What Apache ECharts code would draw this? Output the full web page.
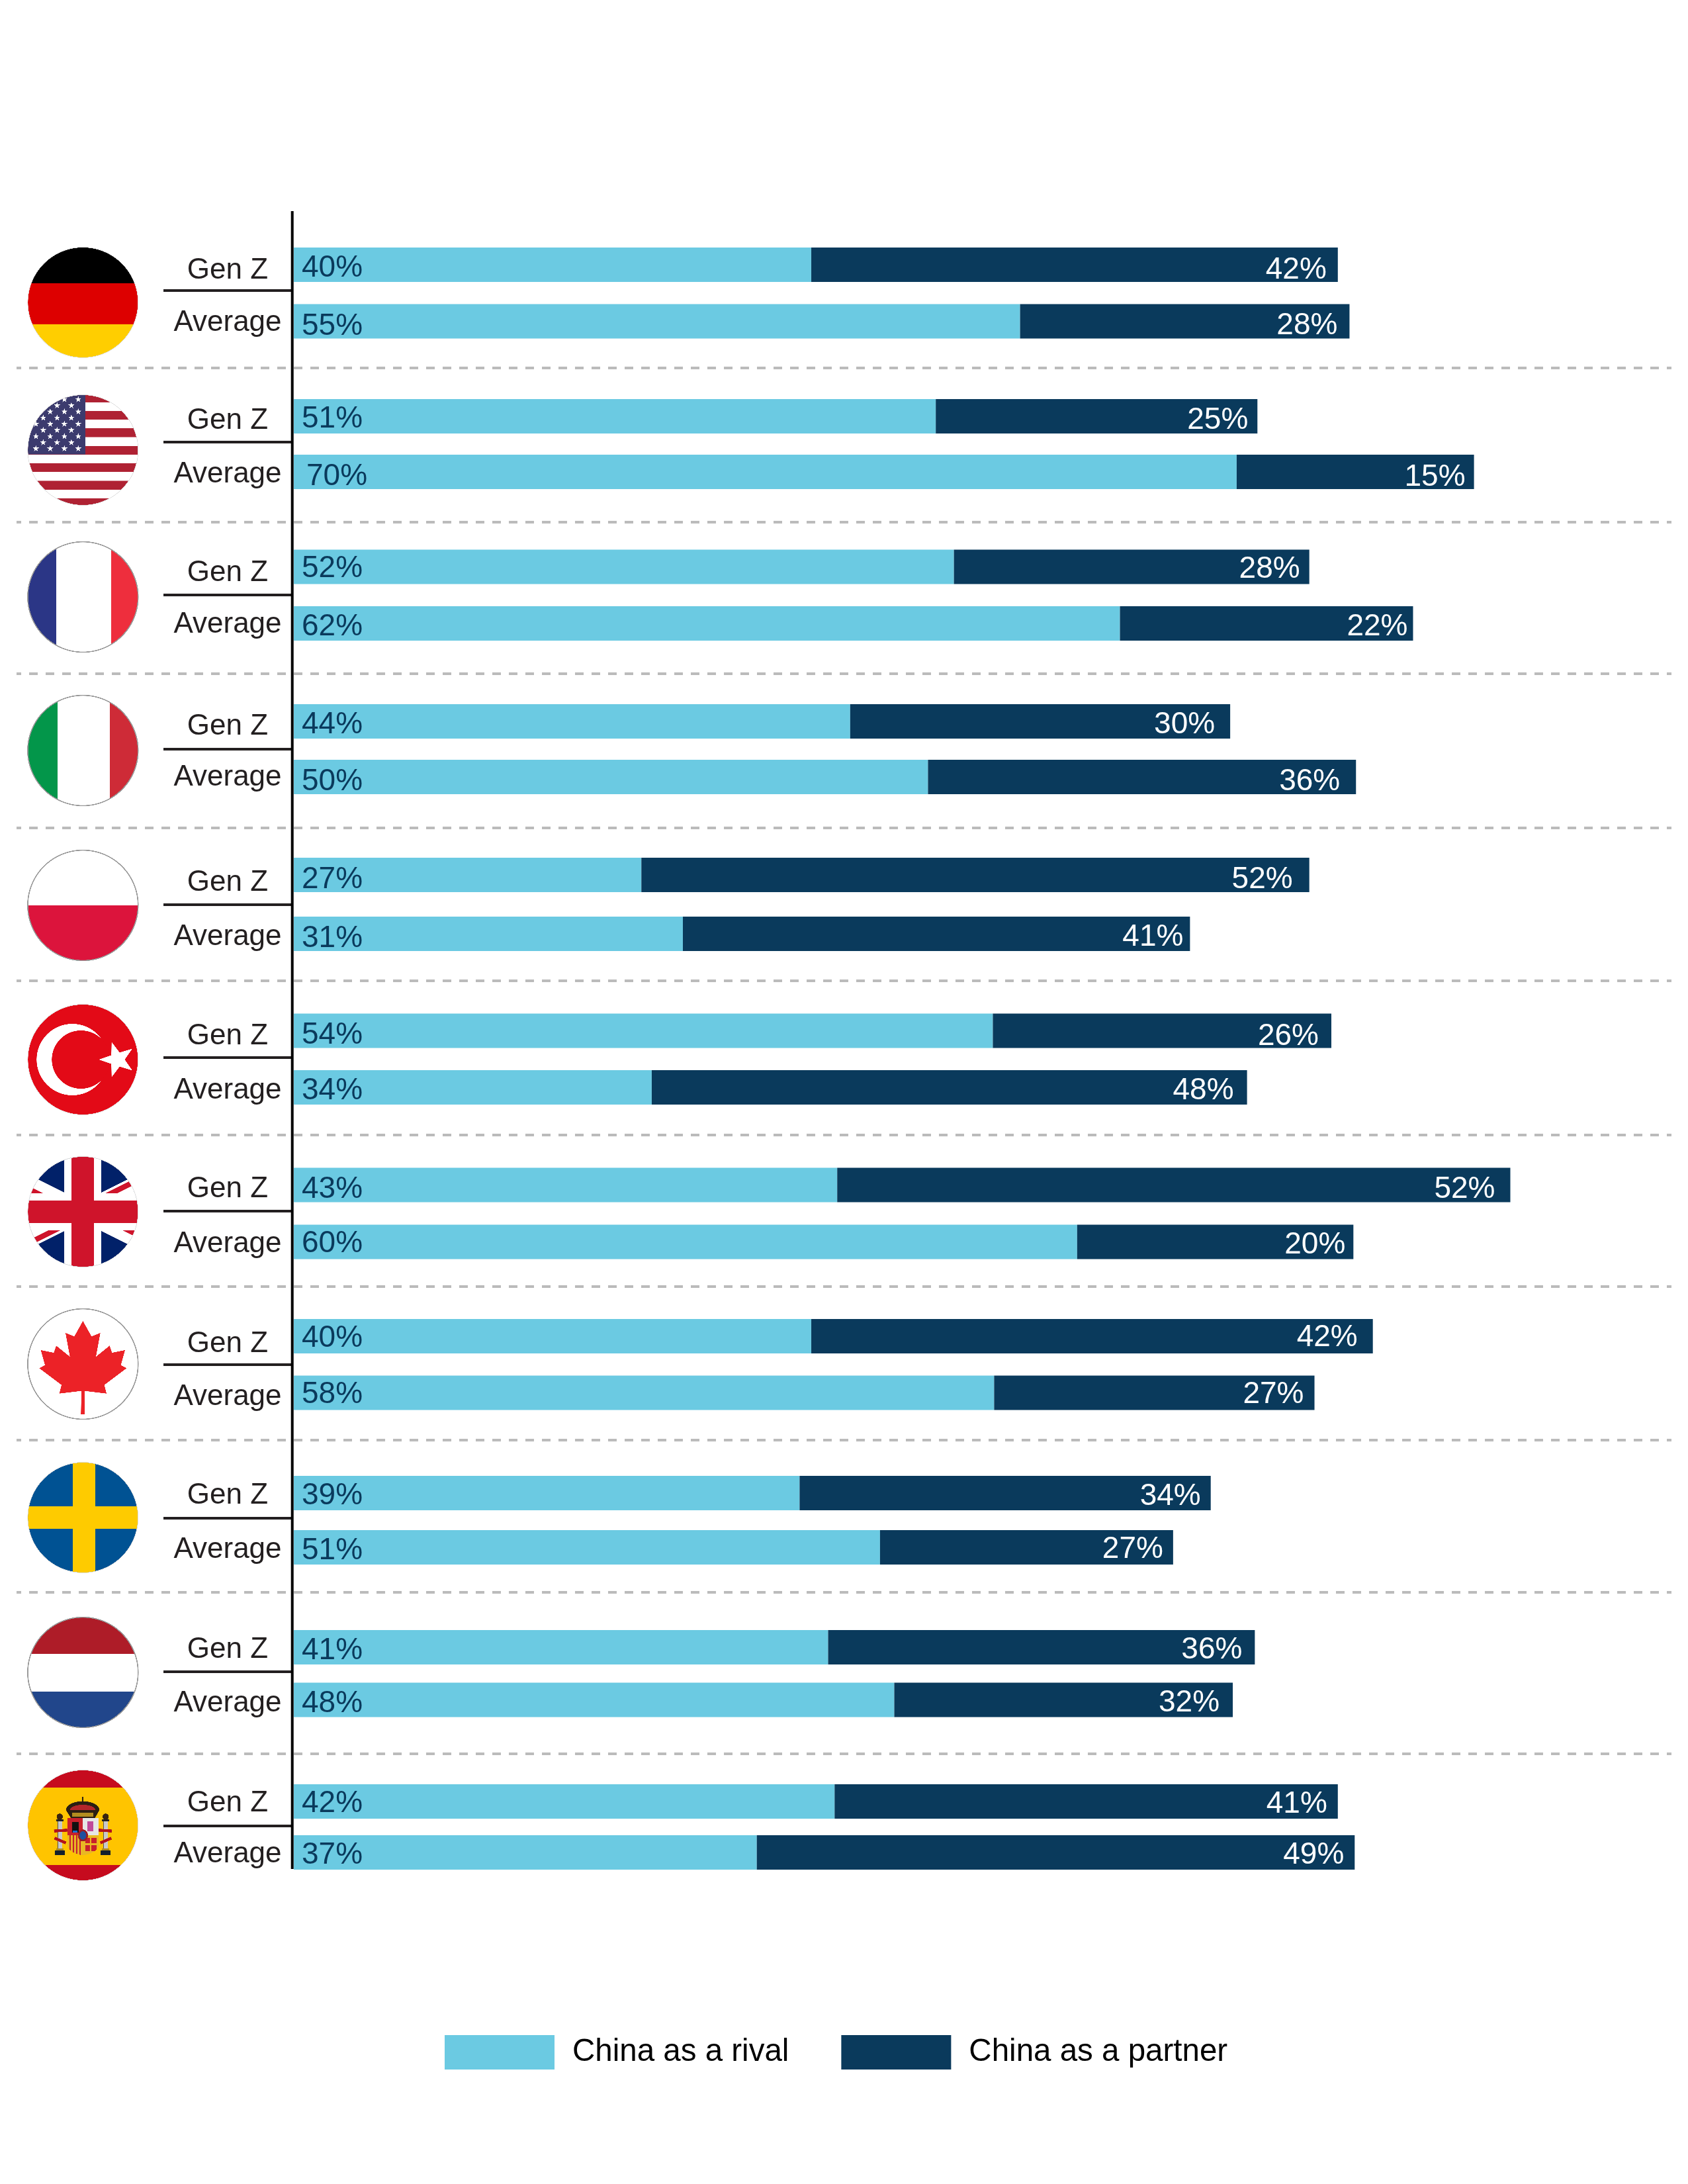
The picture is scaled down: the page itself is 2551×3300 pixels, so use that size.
<!DOCTYPE html>
<html>
<head>
<meta charset="utf-8">
<title>China as a rival or a partner</title>
<script src="https://cdn.jsdelivr.net/npm/echarts@6/dist/echarts.min.js"></script>
<style>
  html, body { margin: 0; background: #fff; }
  #chart { width: 2551px; height: 3300px; }
</style>
</head>
<body>
<div id="chart"></div>
<script>
const FONT = '"Liberation Sans", Arial, sans-serif';
const LIGHT = "#6bcae2";
const DARK = "#0a3a5c";

const countries = ["Germany", "USA", "France", "Italy", "Poland", "Turkey", "UK", "Canada", "Sweden", "Netherlands", "Spain"];
const rows = ["Gen Z", "Average"];

// figures printed on the bars
const printedRivalGenZ = [40, 51, 52, 44, 27, 54, 43, 40, 39, 41, 42];
const printedPartnerGenZ = [42, 25, 28, 30, 52, 26, 52, 42, 34, 36, 41];
const printedRivalAverage = [55, 70, 62, 50, 31, 34, 60, 58, 51, 48, 37];
const printedPartnerAverage = [28, 15, 22, 36, 41, 48, 20, 27, 27, 32, 49];

// the source bars don't follow the printed figures exactly, these are the drawn lengths
const rivalGenZ = [39.9, 49.5, 50.9, 42.9, 26.8, 53.9, 41.9, 39.9, 39.0, 41.2, 41.7];
const partnerGenZ = [40.6, 24.8, 27.4, 29.3, 51.5, 26.1, 51.9, 43.3, 31.7, 32.9, 38.8];
const rivalAverage = [56.0, 72.7, 63.7, 48.9, 30.0, 27.6, 60.4, 54.0, 45.2, 46.3, 35.7];
const partnerAverage = [25.4, 18.3, 22.6, 33.0, 39.1, 45.9, 21.3, 24.7, 22.6, 26.1, 46.1];

// layout, in page pixels
const centreGenZ = [400, 629, 856.5, 1090, 1322, 1557.5, 1790.5, 2019, 2256, 2489, 2722];
const centreAverage = [485.5, 713, 942, 1174, 1411, 1643, 1876.5, 2104.5, 2338, 2568.5, 2799];
const ruleY = [439, 668, 899, 1132, 1367, 1598, 1830, 2062, 2294, 2526, 2759];
const flagY = [457, 680, 902, 1134, 1368, 1601, 1831, 2061, 2293, 2527, 2758];
const separatorY = [556, 789, 1018, 1251, 1482, 1715, 1944, 2176, 2406, 2650];

// glyphs sit a little above the centre of their box
const GLYPH_DY = 3;
const rowLabelDyGenZ = [9, 7, 9, 8, 12, 8, 6, 12, 4, 4, 3];
const rowLabelDyAverage = [2, 4, 2, 1, 5, 5, 3, 6, 4, 5, 3];
const rivalDyGenZ = [2, 1, 0, 2, 4, 4, 4, 0, 1, 2, 0];
const rivalDyAverage = [4.5, 4, 2.5, 4, 4, 2, 0, 0, 2, 3, 1];
const partnerDyGenZ = [5, 3, 0.5, 2, 4, 5.5, 3.5, -1, 2, 1, 1];
const partnerDyAverage = [4, 5, 2, 4, 2, 2, 1.5, 0, 0, 2, 1];
const partnerInsetGenZ = [17, 14, 14, 23, 25, 19, 23, 23, 15, 19, 16];
const partnerInsetAverage = [18, 13, 8, 24, 10, 20, 12, 16, 15, 20, 16];

const FLAG_R = 83;

function fiveStar(ctx, x, y, r, rot) {
  ctx.beginPath();
  for (let i = 0; i < 10; i++) {
    const rad = i % 2 ? r * 0.4 : r;
    const a = rot + (i * Math.PI) / 5;
    ctx.lineTo(x + rad * Math.cos(a), y + rad * Math.sin(a));
  }
  ctx.closePath();
  ctx.fill();
}

function bands(ctx, list) {
  list.forEach(([color, x, y, w, h]) => {
    ctx.fillStyle = color;
    ctx.fillRect(x, y, w, h);
  });
}

const R = 90;

const flagPainters = {
  Germany(ctx) {
    bands(ctx, [["#000", -R, -R, 2 * R, 61], ["#dd0000", -R, -29, 2 * R, 62], ["#ffce00", -R, 33, 2 * R, 60]]);
  },
  USA(ctx) {
    bands(ctx, [["#fff", -R, -R, 2 * R, 2 * R]]);
    ctx.fillStyle = "#af2233";
    ctx.fillRect(-R, -R, 2 * R, 17.7);
    for (let i = 1; i < 7; i++) ctx.fillRect(-R, -72.3 + (2 * i - 1) * 13.2, 2 * R, 13.2);
    bands(ctx, [["#3c3b6e", -R, -R, R + 4, R + 6.5]]);
    ctx.fillStyle = "#fff";
    const colsA = [-7, -28, -49.5, -71];
    const colsB = [-17.5, -39, -60];
    for (let r = 0; r < 9; r++) {
      (r % 2 ? colsB : colsA).forEach((x) => fiveStar(ctx, x, -76.5 + r * 9.3, 5, -Math.PI / 2));
    }
  },
  France(ctx) {
    bands(ctx, [["#fff", -R, -R, 2 * R, 2 * R], ["#2b3686", -R, -R, R - 40, 2 * R], ["#ee2e3d", 43, -R, R, 2 * R]]);
  },
  Italy(ctx) {
    bands(ctx, [["#fff", -R, -R, 2 * R, 2 * R], ["#03964a", -R, -R, R - 38, 2 * R], ["#ce2b37", 41, -R, R, 2 * R]]);
  },
  Poland(ctx) {
    bands(ctx, [["#fff", -R, -R, 2 * R, R], ["#dc143c", -R, 0, 2 * R, R]]);
  },
  Turkey(ctx) {
    bands(ctx, [["#e30a17", -R, -R, 2 * R, 2 * R]]);
    ctx.fillStyle = "#fff";
    ctx.beginPath();
    ctx.arc(-16, 0, 54, 0, 2 * Math.PI);
    ctx.fill();
    ctx.fillStyle = "#e30a17";
    ctx.beginPath();
    ctx.arc(-3, 0, 44, 0, 2 * Math.PI);
    ctx.fill();
    ctx.fillStyle = "#fff";
    fiveStar(ctx, 52, 0, 28, Math.PI);
  },
  UK(ctx) {
    bands(ctx, [["#012169", -R, -R, 2 * R, 2 * R]]);
    ctx.strokeStyle = "#fff";
    ctx.lineWidth = 27;
    ctx.beginPath();
    ctx.moveTo(-R, -R / 2); ctx.lineTo(R, R / 2);
    ctx.moveTo(-R, R / 2); ctx.lineTo(R, -R / 2);
    ctx.stroke();
    ctx.fillStyle = "#cf142b";
    // red diagonals are counterchanged, one polygon per quadrant
    [[-1, 0.5, 2, 11], [1, -0.5, -11, -2], [-1, -0.5, 2, 11], [1, 0.5, -11, -2]].forEach(([dir, slope, a, b]) => {
      const x1 = dir * R;
      ctx.beginPath();
      ctx.moveTo(0, a);
      ctx.lineTo(x1, x1 * slope + a);
      ctx.lineTo(x1, x1 * slope + b);
      ctx.lineTo(0, b);
      ctx.closePath();
      ctx.fill();
    });
    bands(ctx, [["#fff", -28, -R, 56, 2 * R], ["#fff", -R, -28, 2 * R, 56], ["#cf142b", -17, -R, 34, 2 * R], ["#cf142b", -R, -17, 2 * R, 34]]);
  },
  Canada(ctx) {
    bands(ctx, [["#fff", -R, -R, 2 * R, 2 * R]]);
    const half = [[0, -195], [39, -125], [79, -141], [59, -33], [121, -83], [132, -51], [191, -63], [172, 5], [198, 19], [97, 95], [107, 134], [7, 122], [9, 227]];
    const pts = half.concat(half.slice(1).reverse().map(([x, y]) => [-x, y]));
    ctx.fillStyle = "#ec2227";
    ctx.beginPath();
    pts.forEach(([x, y]) => ctx.lineTo(x / 3, y / 3));
    ctx.closePath();
    ctx.fill();
  },
  Sweden(ctx) {
    bands(ctx, [["#005293", -R, -R, 2 * R, 2 * R], ["#fecb00", -15.3, -R, 34, 2 * R], ["#fecb00", -R, -17, 2 * R, 34]]);
  },
  Netherlands(ctx) {
    bands(ctx, [["#fff", -R, -R, 2 * R, 2 * R], ["#ae1c28", -R, -R, 2 * R, R - 28.3], ["#21468b", -R, 28.7, 2 * R, R]]);
  },
  Spain(ctx) {
    bands(ctx, [["#c60b1e", -R, -R, 2 * R, 2 * R], ["#ffc400", -R, -57, 2 * R, 117]]);
    // small coat of arms, scale 1:3
    ctx.save();
    ctx.scale(1 / 3, 1 / 3);
    ctx.translate(-195, -204);
    const rect = (c, x, y, w, h) => { ctx.fillStyle = c; ctx.fillRect(x, y, w, h); };
    // pillars
    [75, 283].forEach((x) => {
      rect("#c9c9c9", x + 4, 186, 22, 132);
      rect("#555", x + 4, 186, 4, 132);
      rect("#222", x - 2, 176, 34, 10);
      rect("#14202c", x - 8, 318, 46, 22);
      rect("#b08a1a", x - 2, 310, 34, 8);
      ctx.fillStyle = "#3a2410";
      ctx.beginPath();
      ctx.arc(x + 15, 165, 14, 0, 2 * Math.PI);
      ctx.fill();
    });
    // ribbons
    ctx.strokeStyle = "#b3121d";
    ctx.lineWidth = 13;
    ctx.beginPath();
    ctx.moveTo(64, 230); ctx.lineTo(124, 226);
    ctx.moveTo(266, 226); ctx.lineTo(326, 230);
    ctx.moveTo(66, 262); ctx.lineTo(118, 284);
    ctx.moveTo(324, 262); ctx.lineTo(274, 284);
    ctx.stroke();
    // crown
    ctx.fillStyle = "#2b1f12";
    ctx.beginPath();
    ctx.ellipse(194, 135, 76, 40, 0, Math.PI, 2 * Math.PI);
    ctx.lineTo(250, 170);
    ctx.lineTo(140, 170);
    ctx.closePath();
    ctx.fill();
    ctx.fillStyle = "#b3262a";
    ctx.beginPath();
    ctx.ellipse(194, 135, 58, 24, 0, Math.PI, 2 * Math.PI);
    ctx.closePath();
    ctx.fill();
    rect("#b38d1f", 146, 148, 96, 18);
    rect("#2b1f12", 190, 76, 8, 24);
    // shield
    ctx.save();
    ctx.beginPath();
    ctx.moveTo(124, 172);
    ctx.lineTo(267, 172);
    ctx.lineTo(267, 290);
    ctx.quadraticCurveTo(262, 330, 195, 340);
    ctx.quadraticCurveTo(128, 330, 124, 290);
    ctx.closePath();
    ctx.clip();
    rect("#c8202c", 124, 172, 71, 78);
    rect("#e6e6e6", 195, 172, 72, 78);
    rect("#e9b824", 124, 250, 71, 90);
    ["#c8202c", "#c8202c", "#c8202c", "#c8202c"].forEach((c, i) => rect(c, 133 + i * 15, 250, 7, 90));
    rect("#e9b824", 195, 250, 72, 90);
    rect("#c8202c", 205, 260, 52, 60);
    rect("#e9b824", 226, 260, 8, 60);
    rect("#e9b824", 205, 285, 52, 8);
    rect("#111", 145, 190, 30, 46);
    rect("#1b6ed0", 150, 228, 20, 10);
    rect("#c04a9a", 215, 186, 28, 44);
    ctx.restore();
    ctx.fillStyle = "#9a1b24";
    ctx.beginPath();
    ctx.ellipse(195, 250, 23, 27, 0, 0, 2 * Math.PI);
    ctx.fill();
    ctx.fillStyle = "#1f4f9e";
    ctx.beginPath();
    ctx.ellipse(195, 250, 15, 19, 0, 0, 2 * Math.PI);
    ctx.fill();
    ctx.restore();
  },
};

const ringed = { France: 1, Italy: 1, Poland: 1, Canada: 1, Netherlands: 1 };

function makeFlag(name) {
  const size = 172;
  const scale = 3;
  const canvas = document.createElement("canvas");
  canvas.width = size * scale;
  canvas.height = size * scale;
  const ctx = canvas.getContext("2d");
  ctx.scale(scale, scale);
  ctx.translate(size / 2, size / 2);
  ctx.save();
  ctx.beginPath();
  ctx.arc(0, 0, FLAG_R, 0, 2 * Math.PI);
  ctx.clip();
  flagPainters[name](ctx);
  ctx.restore();
  ctx.strokeStyle = ringed[name] ? "#999" : "#ddd";
  ctx.lineWidth = ringed[name] ? 1.6 : 0.8;
  ctx.beginPath();
  ctx.arc(0, 0, FLAG_R + 0.4, 0, 2 * Math.PI);
  ctx.stroke();
  return canvas;
}

function rowToken(dy) {
  // a top or bottom padding moves the vertically centred text by dy
  return {
    fontFamily: FONT,
    fontSize: 44,
    color: "#231f20",
    padding: dy >= 0 ? [2 * dy, 0, 0, 0] : [0, 0, -2 * dy, 0],
  };
}

const grids = [];
const xAxes = [];
const yAxes = [];
const series = [];

countries.forEach((name, i) => {
  const band = centreAverage[i] - centreGenZ[i];
  grids.push({ left: 444, width: 1960, top: centreGenZ[i] - band / 2, height: band * 2 });
  xAxes.push({ type: "value", gridIndex: i, min: 0, max: 100, show: false });
  yAxes.push({
    type: "category",
    gridIndex: i,
    inverse: true,
    data: rows,
    axisLine: { show: false },
    axisTick: { show: false },
    axisLabel: {
      interval: 0,
      margin: 100,
      align: "center",
      formatter: (v) => (v === rows[0] ? "{a|" : "{b|") + v + "}",
      rich: { a: rowToken(rowLabelDyGenZ[i]), b: rowToken(rowLabelDyAverage[i]) },
    },
  });
  series.push({
    name: "China as a rival",
    type: "bar",
    stack: "row" + i,
    xAxisIndex: i,
    yAxisIndex: i,
    barWidth: 52,
    itemStyle: { color: LIGHT },
    label: {
      show: true,
      position: "insideLeft",
      distance: 12,
      fontFamily: FONT,
      fontSize: 46,
      color: DARK,
      formatter: (p) => (p.dataIndex === 0 ? printedRivalGenZ[i] : printedRivalAverage[i]) + "%",
    },
    data: [
      { value: rivalGenZ[i], label: { offset: [0, rivalDyGenZ[i] + GLYPH_DY] } },
      { value: rivalAverage[i], label: { offset: [name === "USA" ? 7 : 0, rivalDyAverage[i] + GLYPH_DY] } },
    ],
  });
  series.push({
    name: "China as a partner",
    type: "bar",
    stack: "row" + i,
    xAxisIndex: i,
    yAxisIndex: i,
    barWidth: 52,
    itemStyle: { color: DARK },
    label: {
      show: true,
      position: "insideRight",
      fontFamily: FONT,
      fontSize: 46,
      color: "#fff",
      formatter: (p) => (p.dataIndex === 0 ? printedPartnerGenZ[i] : printedPartnerAverage[i]) + "%",
    },
    data: [
      { value: partnerGenZ[i], label: { distance: partnerInsetGenZ[i], offset: [0, partnerDyGenZ[i] + GLYPH_DY] } },
      { value: partnerAverage[i], label: { distance: partnerInsetAverage[i], offset: [0, partnerDyAverage[i] + GLYPH_DY] } },
    ],
  });
});

const graphic = [];
separatorY.forEach((y) => {
  graphic.push({
    type: "line",
    silent: true,
    shape: { x1: 25, y1: y, x2: 2526, y2: y },
    style: { stroke: "#bbb", lineWidth: 4, lineDash: [13, 12], lineDashOffset: 6 },
  });
});
ruleY.forEach((y) => {
  graphic.push({
    type: "line",
    silent: true,
    shape: { x1: 247, y1: y, x2: 442, y2: y },
    style: { stroke: "#231f20", lineWidth: 4 },
  });
});
graphic.push({
  type: "line",
  silent: true,
  shape: { x1: 441.7, y1: 319, x2: 441.7, y2: 2824 },
  style: { stroke: "#000", lineWidth: 4 },
});
countries.forEach((name, i) => {
  graphic.push({
    type: "image",
    silent: true,
    x: 125.3 - 86,
    y: flagY[i] - 86,
    style: { image: makeFlag(name), x: 0, y: 0, width: 172, height: 172 },
  });
});

const chart = echarts.init(document.getElementById("chart"));
chart.setOption({
  animation: false,
  backgroundColor: "#fff",
  legend: {
    left: 672,
    top: 3075,
    padding: 0,
    itemWidth: 166,
    itemHeight: 52,
    itemGap: 79,
    icon: "rect",
    selectedMode: false,
    data: ["China as a rival", "China as a partner"],
    textStyle: { fontFamily: FONT, fontSize: 47.5, color: "#000", padding: [4, 0, 0, 22] },
  },
  grid: grids,
  xAxis: xAxes,
  yAxis: yAxes,
  series,
  graphic,
});
</script>
</body>
</html>
